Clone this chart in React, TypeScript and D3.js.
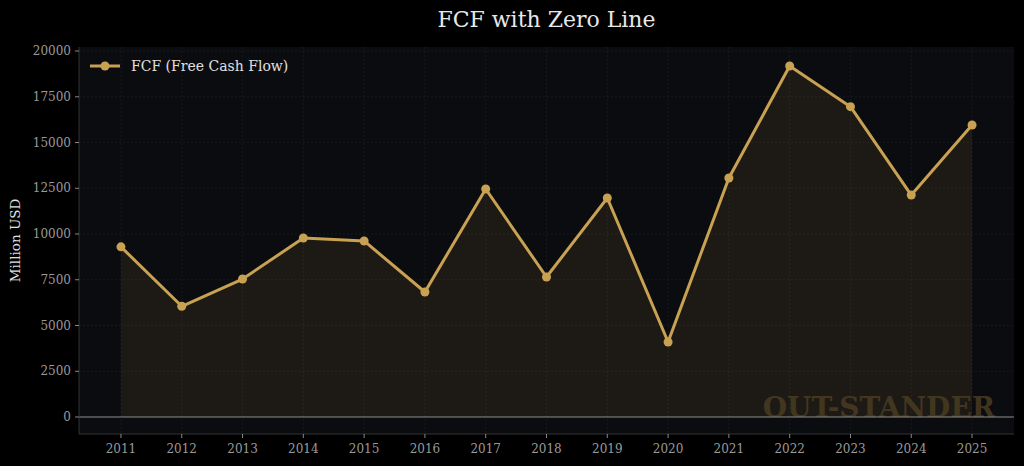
import React from "react";
import * as d3 from "d3";

const years = [2011, 2012, 2013, 2014, 2015, 2016, 2017, 2018, 2019, 2020, 2021, 2022, 2023, 2024, 2025];
const fcf = [9300, 6050, 7540, 9780, 9620, 6830, 12460, 7650, 11970, 4100, 13060, 19180, 16960, 12130, 15960];
const yTicks = [0, 2500, 5000, 7500, 10000, 12500, 15000, 17500, 20000];
const title = "FCF with Zero Line";
const seriesName = "FCF (Free Cash Flow)";
const yLabel = "Million USD";
const watermark = "OUT-STANDER";

const W = 1024, H = 466;
const M = { left: 79, right: 1014, top: 47, bottom: 434 };
const FONT = "'DejaVu Serif', serif";
const GOLD = "#c9a152";

export default function App() {
  const x = d3.scaleLinear().domain([2010.31, 2025.69]).range([M.left, M.right]);
  const y = d3.scaleLinear().domain([-929, 20220]).range([M.bottom, M.top]);
  const pts = years.map((yr, i) => [yr, fcf[i]] as [number, number]);
  const line = d3.line<[number, number]>().x(d => x(d[0])).y(d => y(d[1]));
  const area = d3.area<[number, number]>().x(d => x(d[0])).y0(y(0)).y1(d => y(d[1]));

  return (
    <svg width={W} height={H} style={{ position: "absolute", left: 0, top: 0, background: "#000" }}>
      <rect x={0} y={0} width={W} height={H} fill="#000" />
      <text x={(M.left + M.right) / 2} y={27} textAnchor="middle" fill="#e8e8e8" fontFamily={FONT} fontSize={22}>{title}</text>
      <rect x={M.left} y={M.top} width={M.right - M.left} height={M.bottom - M.top} fill="#0b0c0f" />
      {yTicks.map(t => (
        <line key={"gy" + t} x1={M.left} x2={M.right} y1={y(t)} y2={y(t)} stroke="#1c1d20" strokeWidth={0.8} strokeDasharray="2,2" />
      ))}
      {years.map(t => (
        <line key={"gx" + t} x1={x(t)} x2={x(t)} y1={M.top} y2={M.bottom} stroke="#1c1d20" strokeWidth={0.8} strokeDasharray="2,2" />
      ))}
      <path d={area(pts) || ""} fill="#c9a152" fillOpacity={0.1} />
      <text x={995} y={417} textAnchor="end" fill="#4a3c22" fillOpacity={0.85} fontFamily={FONT} fontWeight="bold" fontSize={28}>{watermark}</text>
      <line x1={M.left} x2={M.right} y1={y(0)} y2={y(0)} stroke="#8a8a8a" strokeWidth={1.2} />
      <path d={line(pts) || ""} fill="none" stroke={GOLD} strokeWidth={3} strokeLinejoin="round" />
      {pts.map(d => (
        <circle key={d[0]} cx={x(d[0])} cy={y(d[1])} r={4.5} fill={GOLD} />
      ))}
      <line x1={M.left} x2={M.left} y1={M.top} y2={M.bottom} stroke="#333" strokeWidth={1} />
      <line x1={M.left} x2={M.right} y1={M.bottom} y2={M.bottom} stroke="#333" strokeWidth={1} />
      {yTicks.map(t => (
        <g key={"yt" + t}>
          <line x1={M.left - 4} x2={M.left} y1={y(t)} y2={y(t)} stroke="#888" />
          <text x={M.left - 8} y={y(t) + 4} textAnchor="end" fill="#9a9a9a" fontFamily={FONT} fontSize={12}>{t}</text>
        </g>
      ))}
      {years.map(t => (
        <g key={"xt" + t}>
          <line x1={x(t)} x2={x(t)} y1={M.bottom} y2={M.bottom + 4} stroke="#888" />
          <text x={x(t)} y={M.bottom + 19} textAnchor="middle" fill="#9a9a9a" fontFamily={FONT} fontSize={12}>{t}</text>
        </g>
      ))}
      <text transform={`translate(20,${(M.top + M.bottom) / 2}) rotate(-90)`} textAnchor="middle" fill="#e0e0e0" fontFamily={FONT} fontSize={13.5}>{yLabel}</text>
      <line x1={90} x2={120} y1={66} y2={66} stroke={GOLD} strokeWidth={3} />
      <circle cx={105} cy={66} r={4.5} fill={GOLD} />
      <text x={131} y={71} fill="#e0e0e0" fontFamily={FONT} fontSize={14}>{seriesName}</text>
    </svg>
  );
}
